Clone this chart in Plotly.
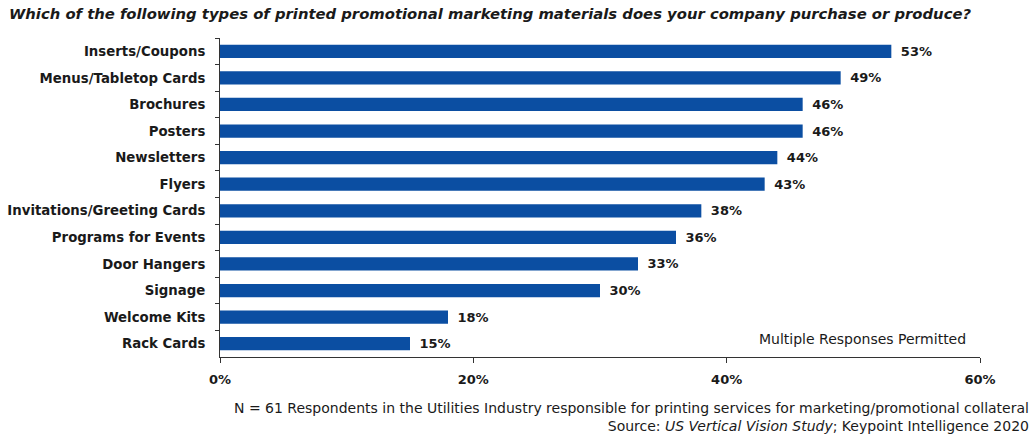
import plotly.graph_objects as go

categories = [
    "Inserts/Coupons", "Menus/Tabletop Cards", "Brochures", "Posters",
    "Newsletters", "Flyers", "Invitations/Greeting Cards", "Programs for Events",
    "Door Hangers", "Signage", "Welcome Kits", "Rack Cards",
]
values = [53, 49, 46, 46, 44, 43, 38, 36, 33, 30, 18, 15]
x_ticks = [0, 20, 40, 60]
x_tick_labels = ["0%", "20%", "40%", "60%"]

FONT = "DejaVu Sans"
INK = "#1a1a1a"
BAR = "#0B4EA2"

fig = go.Figure(
    go.Bar(
        x=values,
        y=categories,
        orientation="h",
        marker=dict(color=BAR, line=dict(width=0)),
        text=[f"\u2002{v}%" for v in values],
        textposition="outside",
        constraintext="none",
        textfont=dict(family=FONT, size=13, color=INK, weight="bold"),
        cliponaxis=False,
    )
)

fig.update_layout(
    width=1033,
    height=437,
    margin=dict(l=220, r=53, t=38, b=80),
    paper_bgcolor="white",
    plot_bgcolor="white",
    bargap=0.5,
    showlegend=False,
    font=dict(family=FONT, color=INK),
    xaxis=dict(
        range=[0, 60],
        tickvals=x_ticks,
        ticktext=x_tick_labels,
        tickfont=dict(family=FONT, size=13, color=INK, weight="bold"),
        showgrid=False,
        zeroline=False,
        showline=True,
        linecolor="#333",
        linewidth=1,
        ticks="outside",
        ticklen=5,
        tickcolor="#333",
        ticklabelstandoff=5,
        automargin=False,
    ),
    yaxis=dict(
        categoryorder="array",
        categoryarray=categories,
        autorange="reversed",
        tickfont=dict(family=FONT, size=13.3, color=INK, weight="bold"),
        showgrid=False,
        zeroline=False,
        showline=True,
        linecolor="#333",
        linewidth=1,
        ticks="outside",
        tickson="boundaries",
        ticklen=4,
        tickcolor="#333",
        ticklabelstandoff=11,
        automargin=False,
    ),
    annotations=[
        dict(
            text="<b><i>Which of the following types of printed promotional marketing materials does your company purchase or produce?</i></b>",
            xref="paper", yref="paper", x=-213 / 760, y=1,
            xanchor="left", yanchor="bottom", yshift=14, showarrow=False,
            font=dict(family=FONT, size=14.8, color=INK),
        ),
        dict(
            text="Multiple Responses Permitted",
            xref="paper", yref="paper", x=(968 - 220) / 760, y=0,
            xanchor="right", yanchor="bottom", yshift=8, showarrow=False,
            font=dict(family=FONT, size=14, color=INK),
        ),
        dict(
            text="N = 61 Respondents in the Utilities Industry responsible for printing services for marketing/promotional collateral<br>Source: <i>US Vertical Vision Study</i>; Keypoint Intelligence 2020",
            xref="paper", yref="paper", x=(1031 - 220) / 760, y=0,
            xanchor="right", yanchor="top", yshift=-41, align="right",
            showarrow=False,
            font=dict(family=FONT, size=14, color=INK),
        ),
    ],
)

fig.write_html("out.html")
